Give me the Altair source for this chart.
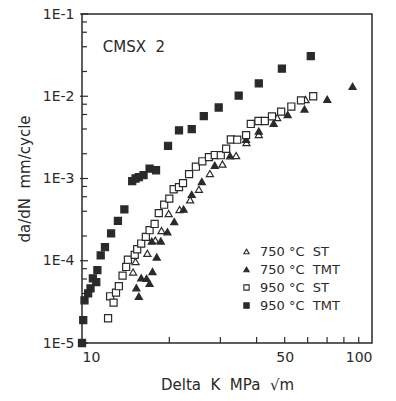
import altair as alt
import pandas as pd

INK = "#2a2a2a"
FONT = "DejaVu Sans"

# ---- data (Delta K in MPa*sqrt(m), da/dN in mm/cycle) ----
st750_dk = [15.0, 15.3, 16.8, 17.9, 18.8, 19.9, 21.7, 23.6, 25.3, 27.6, 30.5, 34.0, 36.9, 40.7, 47.1, 59.0]
st750_rate = [7.3e-5, 9.8e-5, 1.23e-4, 1.78e-4, 2.33e-4, 3.74e-4, 4.2e-4, 5.5e-4, 7.4e-4, 1.15e-3,
              1.5e-3, 1.9e-3, 2.73e-3, 3.43e-3, 5.5e-3, 9.1e-3]

tmt750_dk = [15.7, 15.4, 16.0, 16.7, 17.1, 17.5, 18.1, 17.4, 18.7, 19.7, 20.8, 22.4, 23.9, 25.9,
             28.7, 32.4, 36.8, 40.7, 45.8, 51.2, 58.5, 70.1, 85.7]
tmt750_rate = [3.7e-5, 4.7e-5, 6.2e-5, 6.1e-5, 5.3e-5, 7.4e-5, 1.11e-4, 1.73e-4, 1.74e-4, 2.25e-4,
               2.99e-4, 4.25e-4, 6.4e-4, 9.2e-4, 1.45e-3, 1.89e-3, 3.0e-3, 3.78e-3, 4.7e-3, 6.0e-3,
               7.0e-3, 9.2e-3, 1.32e-2]

st950_dk = [12.3, 12.5, 12.85, 13.1, 13.4, 13.8, 14.2, 14.4, 15.2, 15.5, 16.0, 16.6, 17.1, 17.8,
            18.4, 19.2, 20.0, 20.7, 21.6, 22.3, 23.4, 24.7, 26.0, 27.4, 28.7, 30.1, 31.4, 32.6,
            34.3, 36.8, 38.2, 40.6, 42.7, 45.2, 48.6, 52.7, 56.9, 62.7]
st950_rate = [2.0e-5, 3.7e-5, 3.1e-5, 4.1e-5, 4.9e-5, 6.6e-5, 8.4e-5, 1.03e-4, 1.18e-4, 1.38e-4,
              1.62e-4, 1.95e-4, 2.35e-4, 2.8e-4, 3.8e-4, 4.8e-4, 5.7e-4, 7.4e-4, 7.85e-4, 8.8e-4,
              1.13e-3, 1.39e-3, 1.62e-3, 1.82e-3, 1.93e-3, 1.92e-3, 2.3e-3, 2.98e-3, 2.96e-3,
              3.37e-3, 4.6e-3, 5.0e-3, 5.0e-3, 5.7e-3, 6.5e-3, 7.5e-3, 8.9e-3, 1.0e-2]

tmt950_dk = [10.0, 10.1, 10.2, 10.5, 10.7, 10.9, 11.2, 11.3, 11.6, 12.0, 12.6, 13.3, 14.0, 14.9,
             15.3, 15.7, 16.3, 17.1, 18.0, 19.8, 21.6, 23.9, 26.3, 29.6, 34.7, 40.7, 48.9, 61.5]
tmt950_rate = [1.0e-5, 1.9e-5, 3.3e-5, 4.0e-5, 4.6e-5, 6.1e-5, 5.5e-5, 7.7e-5, 1.16e-4, 1.46e-4,
               2.15e-4, 3.05e-4, 4.2e-4, 9.3e-4, 1.0e-3, 1.04e-3, 1.1e-3, 1.32e-3, 1.26e-3,
               2.5e-3, 3.85e-3, 3.98e-3, 5.75e-3, 7.3e-3, 1.02e-2, 1.43e-2, 2.17e-2, 3.08e-2]

series_labels = ["750 °C\u00a0\u00a0ST", "750 °C\u00a0\u00a0TMT",
                 "950 °C\u00a0\u00a0ST", "950 °C\u00a0\u00a0TMT"]

x_label_values = [10, 50, 100]
x_tick_values = [20, 30, 40, 50, 60, 70, 80, 90]
y_major_values = [1e-5, 1e-4, 1e-3, 1e-2, 1e-1]
y_minor_values = [m * 10.0 ** e for e in range(-5, -1) for m in (2, 4, 6, 8)]

annotation = ["CMSX\u00a0\u00a02"]
annotation_dk = [11.8]
annotation_rate = [0.040]

W, H = 290, 329
X_MIN, X_MAX = 10, 100
Y_MIN, Y_MAX = 1e-5, 1e-1

# tick "series": drawn as short line symbols sitting on the frame, pointing inward
TICK_X, TICK_Y, TICK_YM = "x tick", "y tick", "y minor tick"
tick_names = [TICK_X, TICK_Y, TICK_YM]
tick_shapes = ["M0,0V-1.7", "M-0.57,0H1.7", "M0,0H1.41"]

# ---- build table ----
frames = [
    pd.DataFrame({"dk": x_tick_values, "rate": Y_MIN, "series": TICK_X}),
    pd.DataFrame({"dk": X_MIN, "rate": y_major_values, "series": TICK_Y}),
    pd.DataFrame({"dk": X_MIN, "rate": y_minor_values, "series": TICK_YM}),
]
for lab, xs, ys in zip(series_labels,
                       [st750_dk, tmt750_dk, st950_dk, tmt950_dk],
                       [st750_rate, tmt750_rate, st950_rate, tmt950_rate]):
    frames.append(pd.DataFrame({"dk": xs, "rate": ys, "series": lab}))
df = pd.concat(frames, ignore_index=True)

all_series = series_labels + tick_names

xscale = alt.Scale(type="log", domain=[X_MIN, X_MAX], nice=False)
yscale = alt.Scale(type="log", domain=[Y_MIN, Y_MAX], nice=False)

xaxis = alt.Axis(values=x_label_values, format="d", title="Delta\u00a0 K\u00a0 MPa\u00a0 √m",
                 labelPadding=7, titlePadding=13)
yaxis = alt.Axis(values=y_major_values,
                 labelExpr="'1E-' + round(-log(datum.value)/LN10)",
                 title="da/dN\u00a0\u00a0mm/cycle", labelPadding=8, titlePadding=10)

legend = alt.Legend(title=None, orient="none", legendX=158, legendY=231, padding=0,
                    values=series_labels,
                    symbolSize=28, symbolStrokeWidth=1.1, labelFontSize=13, labelFont=FONT,
                    labelColor=INK, labelOffset=7, rowPadding=4)

points = alt.Chart(df).mark_point(filled=True, size=50, strokeWidth=1.2, opacity=1).encode(
    x=alt.X("dk:Q", scale=xscale, axis=xaxis),
    y=alt.Y("rate:Q", scale=yscale, axis=yaxis),
    shape=alt.Shape("series:N",
                    scale=alt.Scale(domain=all_series,
                                    range=["triangle-up", "triangle-up", "square", "square"] + tick_shapes),
                    legend=legend),
    fill=alt.Fill("series:N",
                  scale=alt.Scale(domain=all_series,
                                  range=["white", INK, "white", INK] + ["transparent"] * 3),
                  legend=legend),
    stroke=alt.Stroke("series:N",
                      scale=alt.Scale(domain=all_series, range=[INK] * 7),
                      legend=legend),
)

txt = alt.Chart(pd.DataFrame({"dk": annotation_dk, "rate": annotation_rate, "t": annotation})).mark_text(
    align="left", baseline="middle", fontSize=15, font=FONT, color=INK).encode(
    x=alt.X("dk:Q", scale=xscale), y=alt.Y("rate:Q", scale=yscale), text="t:N")

chart = alt.layer(points, txt).properties(
    width=W, height=H,
    autosize=alt.AutoSizeParams(type="none"),
    padding={"left": 82, "top": 14, "right": 24, "bottom": 58},
    background="white",
).configure_view(
    stroke=INK, strokeWidth=1.5
).configure_axis(
    domain=False, ticks=False, grid=False,
    labelFont=FONT, labelFontSize=14, labelColor=INK,
    titleFont=FONT, titleFontSize=15, titleColor=INK, titleFontWeight="normal",
)

chart.save("out.html", embed_options={"renderer": "svg", "actions": False})
